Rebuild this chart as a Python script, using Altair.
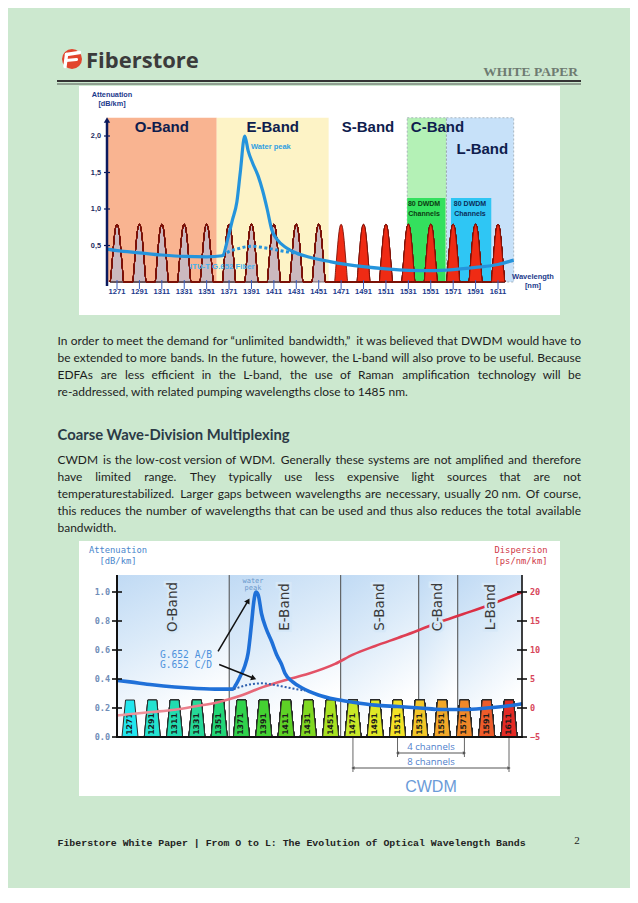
import altair as alt
import pandas as pd

OFF = 8
W, H = 622, 880


def cx(v):
    return v - OFF


def cy(v):
    return v - OFF


# ================= values =================
cwdm = [1271, 1291, 1311, 1331, 1351, 1371, 1391, 1411, 1431,
        1451, 1471, 1491, 1511, 1531, 1551, 1571, 1591, 1611]
cwdm_labels = [str(c) for c in cwdm]

band_names = ["O-Band", "E-Band", "S-Band", "C-Band", "L-Band"]
band_lo = [1260, 1360, 1460, 1530, 1565]
band_hi = [1360, 1460, 1530, 1565, 1625]

# ---- chart 1 (DWDM bands) ----
c1_att_wl = [1262, 1271, 1291, 1311, 1331, 1351, 1365, 1370, 1374, 1378, 1381, 1385,
             1388, 1392, 1397, 1401, 1405, 1409, 1414, 1422, 1432, 1443, 1461, 1491,
             1511, 1531, 1551, 1571, 1591, 1611, 1625]
c1_att_db = [0.45, 0.43, 0.40, 0.37, 0.35, 0.345, 0.36, 0.60, 0.85, 1.10, 1.50, 2.00,
             1.80, 1.63, 1.45, 1.25, 1.00, 0.72, 0.58, 0.47, 0.39, 0.34, 0.28, 0.21,
             0.18, 0.16, 0.155, 0.17, 0.20, 0.24, 0.30]
c1_lwp_wl = [1365, 1370, 1380, 1391, 1400, 1410, 1420, 1428, 1434]
c1_lwp_db = [0.36, 0.41, 0.46, 0.49, 0.475, 0.45, 0.42, 0.40, 0.38]
c1_peak_db = 0.79
c1_band_top = 2.25
c1_yticks = [0.5, 1.0, 1.5, 2.0]
c1_ylabels = ["0,5", "1,0", "1,5", "2,0"]
c1_dwdm_lo = [1530, 1569]
c1_dwdm_hi = [1564, 1605]
c1_dwdm_top = 1.15
c1_dwdm_mid = [1545, 1586]
c1_label_wl = [1311, 1410, 1495, 1557, 1597]

# ---- chart 2 (CWDM) ----
c2_att_wl = [1260, 1271, 1291, 1311, 1331, 1351, 1363, 1366, 1370, 1374, 1377, 1380,
             1382, 1384, 1386, 1389, 1393, 1398, 1403, 1407, 1410, 1417, 1425, 1440,
             1455, 1471, 1491, 1511, 1531, 1551, 1571, 1591, 1611, 1623]
c2_att_db = [0.39, 0.38, 0.36, 0.345, 0.335, 0.33, 0.33, 0.36, 0.42, 0.49, 0.58, 0.78,
             0.93, 1.00, 0.98, 0.85, 0.75, 0.66, 0.56, 0.50, 0.44, 0.38, 0.34, 0.29,
             0.26, 0.24, 0.22, 0.21, 0.20, 0.19, 0.19, 0.20, 0.215, 0.23]
c2_lwp_wl = [1364, 1372, 1380, 1390, 1400, 1410, 1420, 1428]
c2_lwp_db = [0.33, 0.35, 0.365, 0.37, 0.36, 0.345, 0.33, 0.32]
c2_disp_wl = [1259, 1290, 1311, 1330, 1350, 1370, 1390, 1410, 1431, 1455, 1471, 1491,
              1516, 1546, 1570, 1591, 1623]
c2_disp = [-1.3, -0.7, -0.3, 0.3, 1.0, 2.1, 3.6, 4.8, 5.9, 7.6, 9.2, 10.7,
           12.4, 14.6, 16.2, 17.6, 20.0]
c2_bar_db = 0.255
c2_top_db = 1.117
c2_att_ticks = [0.0, 0.2, 0.4, 0.6, 0.8, 1.0]
c2_disp_ticks = [-5, 0, 5, 10, 15, 20]
c2_bar_colors = ['#22e6ee', '#24e2d0', '#22dcb0', '#26d898', '#22d676', '#30d24c',
                 '#44d232', '#5ed226', '#80d822', '#a8e222', '#c8e828', '#e0e826',
                 '#f2e226', '#f2c628', '#f2a828', '#f08828', '#ee5c2a', '#e42a24']

# ---- text ----
para1 = [
    "In order to meet the demand for \u201cunlimited bandwidth,\u201d it was believed that DWDM would have to",
    "be extended to more bands. In the future, however, the L-band will also prove to be useful. Because",
    "EDFAs are less efficient in the L-band, the use of Raman amplification technology will be",
    "re-addressed, with related pumping wavelengths close to 1485 nm.",
]
heading = "Coarse Wave-Division Multiplexing"
para2 = [
    "CWDM is the low-cost version of WDM. Generally these systems are not amplified and therefore",
    "have limited range. They typically use less expensive light sources that are not",
    "temperaturestabilized. Larger gaps between wavelengths are necessary, usually 20 nm. Of course,",
    "this reduces the number of wavelengths that can be used and thus also reduces the total available",
    "bandwidth.",
]
footer = "Fiberstore White Paper | From O to L: The Evolution of Optical Wavelength Bands"

# ================= helpers =================
ONE = pd.DataFrame({'k': [0]})


def vrect(x0, y0, x1, y1, **kw):
    return alt.Chart(ONE).mark_rect(**kw).encode(
        x=alt.value(cx(x0)), x2=alt.value(cx(x1)),
        y=alt.value(cy(y0)), y2=alt.value(cy(y1)))


def vrule(x0, y0, x1, y1, **kw):
    return alt.Chart(ONE).mark_rule(**kw).encode(
        x=alt.value(cx(x0)), x2=alt.value(cx(x1)),
        y=alt.value(cy(y0)), y2=alt.value(cy(y1)))


def vtext(rows, **kw):
    d = pd.DataFrame(rows, columns=['x', 'y', 't'])
    d['x'] = d['x'] - OFF
    d['y'] = d['y'] - OFF
    return alt.Chart(d).mark_text(**kw).encode(
        x=alt.X('x:Q', scale=None, axis=None),
        y=alt.Y('y:Q', scale=None, axis=None),
        text='t:N')


def sc(domain, rng):
    return alt.Scale(domain=domain, range=rng, nice=False, zero=False)


layers = []

# ================= header =================
layers.append(alt.Chart(ONE).mark_point(shape='circle', filled=True, size=400, color='#e2452d', opacity=1)
              .encode(x=alt.value(cx(72)), y=alt.value(cy(59))))
layers.append(vrule(66.5, 54.5, 79.5, 52.5, color='white', strokeWidth=3.4, strokeCap='round'))
layers.append(vrule(66, 60.5, 76.5, 59.5, color='white', strokeWidth=3.2, strokeCap='round'))
layers.append(vrule(66.5, 54.5, 65, 66.5, color='white', strokeWidth=3.4, strokeCap='round'))
layers.append(vtext([(86, 61, "Fiberstore")], align='left', baseline='middle', font='Open Sans',
                    fontWeight='bold', fontSize=22, color='#3b3b3b'))
layers.append(vtext([(578, 72, "WHITE PAPER")], align='right', baseline='middle', font='Liberation Serif',
                    fontWeight='bold', fontSize=13.5, color='#6e7b71'))
layers.append(vrule(57, 81, 581, 81, color='#333333', strokeWidth=2))
layers.append(vrule(57, 84, 581, 84, color='#333333', strokeWidth=0.8))

# ================= chart 1 =================
X1 = sc([1271, 1611], [cx(117), cx(498)])
Y1 = sc([0, 2], [cy(282), cy(136)])

layers.append(vrect(79, 86, 560, 315, color='white'))

bands1 = pd.DataFrame({'band': band_names, 'lo': [1262] + band_lo[1:], 'hi': band_hi,
                       'top': [c1_band_top] * 5, 'bot': [0] * 5})
layers.append(alt.Chart(bands1).mark_rect().encode(
    x=alt.X('lo:Q', scale=X1, axis=None), x2='hi:Q',
    y=alt.Y('bot:Q', scale=Y1, axis=None), y2='top:Q',
    color=alt.Color('band:N', scale=alt.Scale(domain=band_names,
                    range=['#f9b491', '#fdf3c6', '#ffffff', '#b4f1b6', '#c7e1f9']), legend=None)))
layers.append(alt.Chart(bands1).transform_filter(
    alt.FieldOneOfPredicate(field='band', oneOf=['C-Band', 'L-Band'])).mark_rect(
    filled=False, stroke='#9aa6b0', strokeDash=[2, 2], strokeWidth=0.8).encode(
    x=alt.X('lo:Q', scale=X1, axis=None), x2='hi:Q',
    y=alt.Y('bot:Q', scale=Y1, axis=None), y2='top:Q'))

dwdm = pd.DataFrame({'lo': c1_dwdm_lo, 'hi': c1_dwdm_hi, 'top': [c1_dwdm_top] * 2,
                     'bot': [0, 0], 'k': ['C', 'L'], 'mid': c1_dwdm_mid})
layers.append(alt.Chart(dwdm).mark_rect().encode(
    x=alt.X('lo:Q', scale=X1, axis=None), x2='hi:Q',
    y=alt.Y('bot:Q', scale=Y1, axis=None), y2='top:Q',
    color=alt.Color('k:N', scale=alt.Scale(domain=['C', 'L'], range=['#34e05e', '#2fc6f4']), legend=None)))
for txt, yy in (("80 DWDM", 204), ("Channels", 214)):
    layers.append(alt.Chart(dwdm).mark_text(font='Liberation Sans', fontWeight='bold', fontSize=7,
                                            baseline='middle').encode(
        x=alt.X('mid:Q', scale=X1, axis=None), y=alt.value(cy(yy)), text=alt.value(txt),
        color=alt.Color('k:N', scale=alt.Scale(domain=['C', 'L'], range=['#0c3d12', '#0b2d5a']), legend=None)))

# peak glyph profile (shape of one channel: offsets in nm, relative height)
peak_dx = [-6, -4.8, -3.6, -2.4, -1.2, 0, 1.2, 2.4, 3.6, 4.8, 6]
peak_rel = [0, 0.24, 0.52, 0.78, 0.95, 1, 0.95, 0.78, 0.52, 0.24, 0]
rows = []
for ch in cwdm:
    g = 'lo' if ch < 1460 else 'hi'
    for dx, r in zip(peak_dx, peak_rel):
        rows.append((ch, ch + dx, r * c1_peak_db, g))
peaks = pd.DataFrame(rows, columns=['ch', 'wl', 'v', 'g'])
layers.append(alt.Chart(peaks).mark_area(interpolate='monotone', strokeWidth=0.9).encode(
    x=alt.X('wl:Q', scale=X1, axis=None), y=alt.Y('v:Q', scale=Y1, axis=None),
    detail='ch:N',
    color=alt.Color('g:N', scale=alt.Scale(domain=['lo', 'hi'], range=['#cbb9bf', '#ef2b14']), legend=None),
    stroke=alt.Stroke('g:N', scale=alt.Scale(domain=['lo', 'hi'], range=['#6b585e', '#7d1208']), legend=None)))

ch_df = pd.DataFrame({'ch': cwdm, 'lab': cwdm_labels})
layers.append(alt.Chart(ch_df).mark_rule(color='#3a5fc0', strokeWidth=1).encode(
    x=alt.X('ch:Q', scale=X1, axis=None), y=alt.value(cy(280)), y2=alt.value(cy(289))))
layers.append(alt.Chart(ch_df).mark_text(font='Liberation Sans', fontWeight='bold', fontSize=7.6,
                                         color='#1c3a8c', baseline='middle').encode(
    x=alt.X('ch:Q', scale=X1, axis=None), y=alt.value(cy(292)), text='lab:N'))

att1 = pd.DataFrame({'wl': c1_att_wl, 'v': c1_att_db})
lwp1 = pd.DataFrame({'wl': c1_lwp_wl, 'v': c1_lwp_db})
layers.append(alt.Chart(lwp1).mark_line(color='#2594dc', strokeWidth=3, strokeDash=[3, 2.5],
                                        interpolate='monotone').encode(
    x=alt.X('wl:Q', scale=X1, axis=None), y=alt.Y('v:Q', scale=Y1, axis=None)))
layers.append(alt.Chart(att1).mark_line(color='#2594dc', strokeWidth=3.2, interpolate='monotone').encode(
    x=alt.X('wl:Q', scale=X1, axis=None), y=alt.Y('v:Q', scale=Y1, axis=None)))

lab1 = pd.DataFrame({'band': band_names, 'wl': c1_label_wl})
layers.append(alt.Chart(lab1).transform_filter(alt.datum.band != 'L-Band').mark_text(
    font='Liberation Sans', fontWeight='bold', fontSize=15, color='#0f1d4e', baseline='middle').encode(
    x=alt.X('wl:Q', scale=X1, axis=None), y=alt.value(cy(127)), text='band:N'))
layers.append(alt.Chart(lab1).transform_filter(alt.datum.band == 'L-Band').mark_text(
    font='Liberation Sans', fontWeight='bold', fontSize=15, color='#0f1d4e', baseline='middle').encode(
    x=alt.X('wl:Q', scale=X1, axis=None), y=alt.value(cy(149)), text='band:N'))

layers.append(vtext([(251, 147, "Water peak")], align='left', baseline='middle', font='Liberation Sans',
                    fontWeight='bold', fontSize=7.5, color='#2f9fe2'))
layers.append(vtext([(190, 267, "ITU-T G.652 Fiber")], align='left', baseline='middle',
                    font='Liberation Sans', fontWeight='bold', fontSize=7.8, color='#45b2ee'))
layers.append(vtext([(533, 277, "Wavelength"), (533, 286, "[nm]")], align='center', baseline='middle',
                    font='Liberation Sans', fontWeight='bold', fontSize=7.5, color='#1c3a8c'))
layers.append(vtext([(112, 95, "Attenuation"), (112, 104, "[dB/km]")], align='center', baseline='middle',
                    font='Liberation Sans', fontWeight='bold', fontSize=7.3, color='#1c3a8c'))

# y axis of chart 1
layers.append(vrule(107, 122, 107, 286, color='#0b1a5e', strokeWidth=2.5))
layers.append(alt.Chart(ONE).mark_point(shape='triangle-up', filled=True, size=40, color='#0b1a5e', opacity=1)
              .encode(x=alt.value(cx(107)), y=alt.value(cy(120))))
yt1 = pd.DataFrame({'v': c1_yticks, 'lab': c1_ylabels})
layers.append(alt.Chart(yt1).mark_rule(color='#0b1a5e', strokeWidth=1.2).encode(
    x=alt.value(cx(104)), x2=alt.value(cx(110)), y=alt.Y('v:Q', scale=Y1, axis=None)))
layers.append(alt.Chart(yt1).mark_text(align='right', baseline='middle', font='Liberation Sans',
                                       fontWeight='bold', fontSize=7.3, color='#1c2a5e').encode(
    x=alt.value(cx(101)), y=alt.Y('v:Q', scale=Y1, axis=None), text='lab:N'))

# ================= body text (justified) =================
CAL = {' ': .226, '.': .252, ',': .250, '-': .306, '\u201c': .418, '\u201d': .418, ':': .268, '/': .386,
       'A': .579, 'B': .544, 'C': .533, 'D': .615, 'E': .488, 'F': .459, 'G': .631, 'H': .623,
       'I': .252, 'J': .319, 'K': .520, 'L': .420, 'M': .855, 'N': .646, 'O': .662, 'P': .517,
       'Q': .673, 'R': .543, 'S': .459, 'T': .487, 'U': .642, 'V': .567, 'W': .890, 'X': .519,
       'Y': .487, 'Z': .468,
       'a': .479, 'b': .525, 'c': .423, 'd': .525, 'e': .498, 'f': .305, 'g': .471, 'h': .525,
       'i': .229, 'j': .239, 'k': .455, 'l': .229, 'm': .799, 'n': .525, 'o': .527, 'p': .525,
       'q': .525, 'r': .349, 's': .391, 't': .335, 'u': .525, 'v': .452, 'w': .715, 'x': .433,
       'y': .453, 'z': .395}
for d in '0123456789':
    CAL[d] = .507


def em(s):
    # capitals of the substitute face run wider than the original's
    return sum(CAL.get(c, .5) * (1.13 if c.isupper() else 1.0) for c in s)


TXT_L, TXT_R = 57.5, 581.0
full_lines = para1[:-1] + para2[:-1]
fs_cal = (TXT_R - TXT_L) / max(em(s) for s in full_lines)
LATO_K = 0.935
fs_body = fs_cal * LATO_K

body_rows = []
right_rows = []


def set_para(lines, y0, dy):
    for i, line in enumerate(lines):
        y = y0 + i * dy
        words = line.split(' ')
        if i == len(lines) - 1:
            body_rows.append((TXT_L, y, line))
            continue
        ww = [em(w) * fs_cal for w in words]
        gap = (TXT_R - TXT_L - sum(ww)) / (len(words) - 1)
        xpos = TXT_L
        for j, (w, wpx) in enumerate(zip(words, ww)):
            if j == len(words) - 1:
                right_rows.append((TXT_R, y, w))
            else:
                body_rows.append((xpos, y, w))
            xpos += wpx + gap


set_para(para1, 341, 17)
set_para(para2, 460, 17)
layers.append(vtext(body_rows, align='left', baseline='middle', font='Lato', fontSize=fs_body,
                    color='#1d1d1d'))
layers.append(vtext(right_rows, align='right', baseline='middle', font='Lato', fontSize=fs_body,
                    color='#1d1d1d'))
layers.append(vtext([(57.5, 436, heading)], align='left', baseline='middle', font='Lato',
                    fontWeight='bold', fontSize=14.8, color='#2b3a46'))

# ================= chart 2 =================
X2 = sc([1271, 1611], [cx(130), cx(509)])
Y2 = sc([0, 1], [cy(737), cy(592)])
Y2R = sc([-5, 20], [cy(737), cy(592)])

layers.append(vrect(79, 541, 560, 796, color='white'))

grad = alt.LinearGradient(gradient='linear', stops=[
    alt.GradientStop(color='#c0daf4', offset=0),
    alt.GradientStop(color='#dcebf9', offset=0.45),
    alt.GradientStop(color='#ffffff', offset=0.95)], x1=0, x2=0.35, y1=0, y2=1)
bands2 = pd.DataFrame({'band': band_names, 'lo': [1259.3] + band_lo[1:], 'hi': band_hi[:-1] + [1623],
                       'top': [c2_top_db] * 5, 'bot': [0] * 5,
                       'mid': [(a + b) / 2 for a, b in zip(band_lo, band_hi)]})
layers.append(alt.Chart(bands2).mark_rect(fill=grad).encode(
    x=alt.X('lo:Q', scale=X2, axis=None), x2='hi:Q',
    y=alt.Y('bot:Q', scale=Y2, axis=None), y2='top:Q'))
layers.append(alt.Chart(bands2).transform_filter(alt.datum.band != 'O-Band').mark_rule(
    color='#4a4a4a', strokeWidth=1).encode(
    x=alt.X('lo:Q', scale=X2, axis=None),
    y=alt.Y('bot:Q', scale=Y2, axis=None), y2='top:Q'))

# trapezoid glyph of one CWDM channel (nm offsets, relative height)
bar_dx = [-7.2, -4.0, 4.0, 7.2]
bar_rel = [0, 1, 1, 0]
rows = []
for ch in cwdm:
    for dx, r in zip(bar_dx, bar_rel):
        rows.append((ch, ch + dx, r * c2_bar_db))
bars = pd.DataFrame(rows, columns=['ch', 'wl', 'v'])
layers.append(alt.Chart(bars).mark_area(stroke='#2a2a2a', strokeWidth=1).encode(
    x=alt.X('wl:Q', scale=X2, axis=None), y=alt.Y('v:Q', scale=Y2, axis=None),
    detail='ch:N',
    color=alt.Color('ch:O', scale=alt.Scale(domain=cwdm, range=c2_bar_colors), legend=None)))
layers.append(alt.Chart(ch_df).mark_text(angle=270, font='DejaVu Sans', fontWeight='bold', fontSize=7.8,
                                         color='#1a1a1a', baseline='middle', align='center').encode(
    x=alt.X('ch:Q', scale=X2, axis=None), y=alt.value(cy(724)), text='lab:N'))

disp = pd.DataFrame({'wl': c2_disp_wl, 'd': c2_disp})
red_grad = alt.LinearGradient(gradient='linear', stops=[
    alt.GradientStop(color='#ef9aa2', offset=0),
    alt.GradientStop(color='#e4566a', offset=0.45),
    alt.GradientStop(color='#d8243a', offset=1)], x1=0, x2=1, y1=0, y2=0)
layers.append(alt.Chart(disp).mark_line(stroke=red_grad, strokeWidth=2.6, interpolate='monotone').encode(
    x=alt.X('wl:Q', scale=X2, axis=None), y=alt.Y('d:Q', scale=Y2R, axis=None)))

att2 = pd.DataFrame({'wl': c2_att_wl, 'v': c2_att_db})
lwp2 = pd.DataFrame({'wl': c2_lwp_wl, 'v': c2_lwp_db})
layers.append(alt.Chart(att2).mark_line(color='#1f70d8', strokeWidth=3.6, interpolate='monotone').encode(
    x=alt.X('wl:Q', scale=X2, axis=None), y=alt.Y('v:Q', scale=Y2, axis=None)))
layers.append(alt.Chart(lwp2).mark_line(color='#2d5fae', strokeWidth=2, strokeDash=[2, 2],
                                        interpolate='monotone').encode(
    x=alt.X('wl:Q', scale=X2, axis=None), y=alt.Y('v:Q', scale=Y2, axis=None)))

layers.append(alt.Chart(bands2).mark_text(angle=270, font='DejaVu Sans', fontSize=13.5, baseline='middle',
                                          align='center', stroke='#d6e8f8', strokeWidth=5, color='#d6e8f8').encode(
    x=alt.X('mid:Q', scale=X2, axis=None), y=alt.value(cy(607)), text='band:N'))
layers.append(alt.Chart(bands2).mark_text(angle=270, font='DejaVu Sans', fontSize=13.5, baseline='middle',
                                          align='center', color='#3a3a3a').encode(
    x=alt.X('mid:Q', scale=X2, axis=None), y=alt.value(cy(607)), text='band:N'))

# axes of chart 2
layers.append(vrule(117, 575, 117, 738, color='#111111', strokeWidth=2))
layers.append(vrule(116, 737, 523, 737, color='#111111', strokeWidth=2))
layers.append(vrule(522, 575, 522, 738, color='#111111', strokeWidth=1.6))
ta = pd.DataFrame({'v': c2_att_ticks})
layers.append(alt.Chart(ta).mark_rule(color='#111111', strokeWidth=1.6).encode(
    x=alt.value(cx(112)), x2=alt.value(cx(122)), y=alt.Y('v:Q', scale=Y2, axis=None)))
layers.append(alt.Chart(ta).mark_text(align='right', baseline='middle', font='DejaVu Sans Mono',
                                      fontWeight='bold', fontSize=8.5, color='#6f8db8').encode(
    x=alt.value(cx(110)), y=alt.Y('v:Q', scale=Y2, axis=None), text=alt.Text('v:Q', format='.1f')))
td = pd.DataFrame({'d': c2_disp_ticks})
layers.append(alt.Chart(td).mark_rule(color='#111111', strokeWidth=1.6).encode(
    x=alt.value(cx(517)), x2=alt.value(cx(527)), y=alt.Y('d:Q', scale=Y2R, axis=None)))
layers.append(alt.Chart(td).mark_text(align='left', baseline='middle', font='DejaVu Sans Mono',
                                      fontWeight='bold', fontSize=8.5, color='#d8465a').encode(
    x=alt.value(cx(530)), y=alt.Y('d:Q', scale=Y2R, axis=None), text=alt.Text('d:Q', format='d')))
layers.append(vtext([(118, 550, "Attenuation"), (118, 561, "[dB/km]")], align='center', baseline='middle',
                    font='DejaVu Sans Mono', fontSize=8.8, color='#4a86cc'))
layers.append(vtext([(521, 550, "Dispersion"), (521, 561, "[ps/nm/km]")], align='center', baseline='middle',
                    font='DejaVu Sans Mono', fontSize=8.8, color='#d03848'))

layers.append(vtext([(253, 581, "water"), (253, 588, "peak")], align='center', baseline='middle',
                    font='DejaVu Sans Mono', fontSize=7, color='#6a98cc'))
layers.append(vtext([(160, 655, "G.652 A/B"), (160, 665, "G.652 C/D")], align='left', baseline='middle',
                    font='DejaVu Sans Mono', fontSize=9.6, color='#4d92dc'))

arrows = pd.DataFrame({'x0': [1350, 1351], 'y0': [0.59, 0.50], 'x1': [1377, 1382], 'y1': [0.94, 0.405],
                       'ang': [30, 111]})
layers.append(alt.Chart(arrows).mark_rule(color='#111111', strokeWidth=1.5).encode(
    x=alt.X('x0:Q', scale=X2, axis=None), x2='x1:Q',
    y=alt.Y('y0:Q', scale=Y2, axis=None), y2='y1:Q'))
layers.append(alt.Chart(arrows).mark_point(shape='triangle-up', filled=True, size=38, color='#111111',
                                           opacity=1).encode(
    x=alt.X('x1:Q', scale=X2, axis=None), y=alt.Y('y1:Q', scale=Y2, axis=None),
    angle=alt.Angle('ang:Q', scale=None)))

spans = pd.DataFrame({'a': [1511, 1471], 'b': [1571, 1611], 'mid': [1541, 1541],
                      'txt': ['4 channels', '8 channels'], 'yline': [757, 772], 'yarr': [753, 768],
                      'ytxt': [747, 762]})
for i in range(2):
    s = spans.iloc[[i]]
    yl, ya, yt = float(s['yline'].iloc[0]), float(s['yarr'].iloc[0]), float(s['ytxt'].iloc[0])
    for col in ('a', 'b'):
        layers.append(alt.Chart(s).mark_rule(color='#666666', strokeWidth=1).encode(
            x=alt.X(col + ':Q', scale=X2, axis=None), y=alt.value(cy(738)), y2=alt.value(cy(yl))))
    layers.append(alt.Chart(s).mark_rule(color='#555555', strokeWidth=1).encode(
        x=alt.X('a:Q', scale=X2, axis=None), x2='b:Q', y=alt.value(cy(ya))))
    layers.append(alt.Chart(s).mark_point(shape='triangle-left', filled=True, size=14, color='#555555',
                                          opacity=1).encode(
        x=alt.X('a:Q', scale=X2, axis=None), y=alt.value(cy(ya))))
    layers.append(alt.Chart(s).mark_point(shape='triangle-right', filled=True, size=14, color='#555555',
                                          opacity=1).encode(
        x=alt.X('b:Q', scale=X2, axis=None), y=alt.value(cy(ya))))
    layers.append(alt.Chart(s).mark_text(font='Open Sans', fontSize=9.5, color='#4f80cc', baseline='middle').encode(
        x=alt.X('mid:Q', scale=X2, axis=None), y=alt.value(cy(yt)), text='txt:N'))
layers.append(alt.Chart(spans.iloc[[0]]).mark_text(font='Liberation Sans', fontSize=16, color='#6b9bd8',
                                                   baseline='middle').encode(
    x=alt.X('mid:Q', scale=X2, axis=None), y=alt.value(cy(787)), text=alt.value('CWDM')))

# ================= footer =================
layers.append(vtext([(57.5, 843, footer)], align='left', baseline='middle', font='Liberation Mono',
                    fontWeight='bold', fontSize=9.9, color='#222222'))
layers.append(vtext([(577, 841, "2")], align='center', baseline='middle', font='Liberation Serif',
                    fontSize=11, color='#222222'))

chart = alt.layer(*layers).resolve_scale(
    x='independent', y='independent', color='independent', stroke='independent'
).properties(
    width=W, height=H, background='#cce8cf', padding=0,
    autosize=alt.AutoSizeParams(type='none')
).configure_view(stroke=None)

chart.save("out.html", embed_options={"renderer": "svg", "actions": False})
